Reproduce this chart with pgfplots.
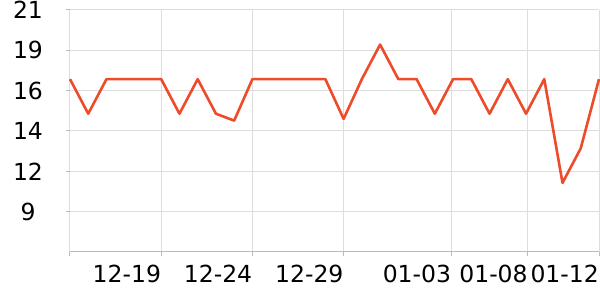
\documentclass[border=0pt]{standalone}
\usepackage{pgfplots}
\pgfplotsset{compat=1.18}
\usepackage{fontspec}
\setmainfont{DejaVu Sans}
\definecolor{lineC}{RGB}{238,75,43}
\definecolor{gridC}{RGB}{221,221,221}
\definecolor{axC}{RGB}{187,187,187}
\begin{document}
\begin{tikzpicture}[x=1pt,y=1pt]
\path[use as bounding box] (0,0) rectangle (600,300);
\begin{axis}[
  at={(70pt,48pt)}, anchor=south west,
  scale only axis, width=529pt, height=242pt,
  xmin=0, xmax=29, ymin=7, ymax=21,
  axis line style={draw=none},
  axis x line*=bottom, axis y line*=left,
  xtick={0,5,10,15,20.9,25.1,29},
  xticklabels={,12-19,12-24,12-29,01-03,01-08,01-12},
  ytick={9.3333,11.6667,14,16.3333,18.6667,21},
  yticklabels={9,12,14,16,19,21},
  xmajorgrids, ymajorgrids,
  grid style={gridC, line width=1pt},
  major tick length=4pt,
  tick style={axC, line width=1pt},
  tick align=outside,
  ticklabel style={font=\fontsize{23.5}{25}\selectfont, text=black},
  /pgf/number format/assume math mode=true,
  xticklabel style={anchor=north east, inner sep=0pt, yshift=-9pt},
  yticklabel style={anchor=center, inner sep=0pt, xshift=-38pt},
  clip=false,
]
\draw[axC, line width=1pt] (axis cs:0,7) -- (axis cs:29,7);
\addplot[lineC, line width=2.6pt, line join=round, mark=none] coordinates {
(0,17) (1,15) (2,17) (3,17) (4,17) (5,17) (6,15) (7,17) (8,15) (9,14.6)
(10,17) (11,17) (12,17) (13,17) (14,17) (15,14.7) (16,17) (17,19) (18,17) (19,17)
(20,15) (21,17) (22,17) (23,15) (24,17) (25,15) (26,17) (27,11) (28,13) (29,17)
};
\end{axis}
\end{tikzpicture}
\end{document}
